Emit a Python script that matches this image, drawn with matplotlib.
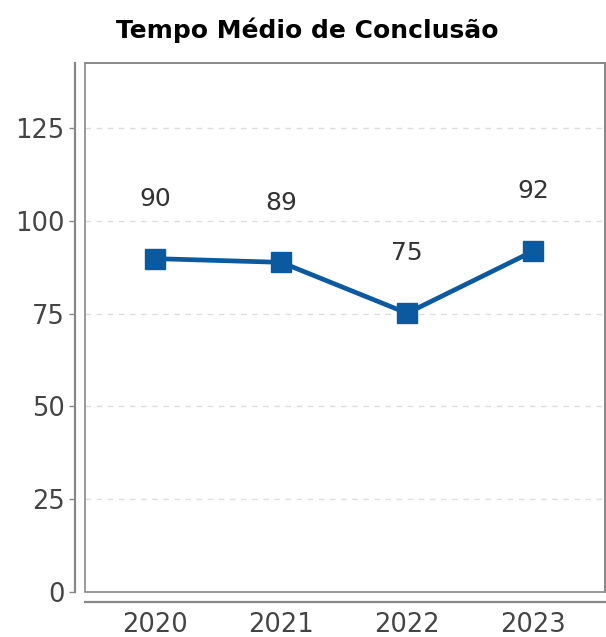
import matplotlib.pyplot as plt
import numpy as np

years = ['2020', '2021', '2022', '2023']
tempo = [89.8, 88.8, 75.1, 91.8]
labels = ['90', '89', '75', '92']
yticks = [0, 25, 50, 75, 100, 125]

W, H = 606, 637
fig = plt.figure(figsize=(W / 100, H / 100), dpi=100)
ax = fig.add_axes([85 / W, (H - 592) / H, (605 - 85) / W, (592 - 63) / H])

x = np.arange(len(years))
ax.plot(x, tempo, color='#0b5aa0', lw=3.4, marker='s', ms=14.5, zorder=3)
for xi, v, lab in zip(x, tempo, labels):
    ax.annotate(lab, (xi, v), xytext=(0, 43), textcoords='offset points',
                ha='center', va='center', fontsize=18, color='#333333')

ax.set_xlim(-0.556, 3.57)
ax.set_ylim(0, 142.5)
ax.set_xticks(x)
ax.set_xticklabels(years)
ax.set_yticks(yticks)
ax.tick_params(axis='y', length=4, width=1, color='#888888', labelsize=18.5,
               labelcolor='#444444', pad=3)
ax.tick_params(axis='x', length=0, labelsize=18.5, labelcolor='#444444', pad=7)
ax.grid(axis='y', color='#dddddd', ls=(0, (4, 4)), lw=1)
ax.set_axisbelow(True)

# box around the plot area
for s in ['top', 'right']:
    ax.spines[s].set_color('#888888')
    ax.spines[s].set_linewidth(1.2)
# separate axis lines, offset from the box
ax.spines['left'].set_position(('outward', 7.5))
ax.spines['bottom'].set_position(('outward', 7.2))
for s in ['left', 'bottom']:
    ax.spines[s].set_color('#888888')
    ax.spines[s].set_linewidth(1.6)
ax.add_patch(plt.Rectangle((0, 0), 1, 1, transform=ax.transAxes, fill=False,
                           ec='#888888', lw=1.2, clip_on=False, zorder=1))

fig.text(307 / W, 1 - 30 / H, 'Tempo Médio de Conclusão', ha='center',
         va='center', fontsize=18, fontweight='bold', color='black')

fig.savefig('out.png', dpi=100, facecolor='white')
